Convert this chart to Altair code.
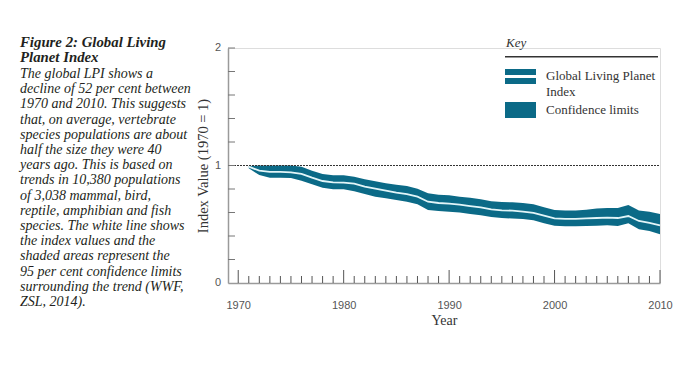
import altair as alt
import pandas as pd

# ---- data ----
years = list(range(1971, 2011))
lpi = [0.990, 0.956, 0.945, 0.945, 0.942, 0.928, 0.896, 0.868, 0.857, 0.854,
       0.845, 0.820, 0.803, 0.786, 0.769, 0.757, 0.735, 0.692, 0.681, 0.675,
       0.667, 0.655, 0.644, 0.627, 0.618, 0.616, 0.607, 0.596, 0.573, 0.550,
       0.545, 0.545, 0.550, 0.553, 0.556, 0.553, 0.570, 0.528, 0.511, 0.491]
lower = [0.976, 0.919, 0.896, 0.896, 0.894, 0.871, 0.840, 0.811, 0.797, 0.797,
         0.780, 0.757, 0.735, 0.721, 0.706, 0.692, 0.670, 0.621, 0.613, 0.607,
         0.599, 0.587, 0.576, 0.562, 0.553, 0.548, 0.545, 0.533, 0.508, 0.488,
         0.482, 0.482, 0.485, 0.488, 0.491, 0.485, 0.508, 0.457, 0.443, 0.414]
upper = [0.996, 1.000, 1.000, 1.000, 1.000, 0.990, 0.956, 0.928, 0.916, 0.916,
         0.905, 0.882, 0.865, 0.848, 0.837, 0.826, 0.803, 0.763, 0.752, 0.746,
         0.735, 0.726, 0.712, 0.695, 0.689, 0.687, 0.681, 0.670, 0.644, 0.621,
         0.616, 0.616, 0.624, 0.633, 0.638, 0.638, 0.664, 0.618, 0.607, 0.587]

x_major = [1970, 1980, 1990, 2000, 2010]
x_minor = [y for y in range(1970, 2011) if y % 10 != 0]
y_ticks = [0.2, 0.4, 0.6, 0.8, 1.0, 1.2, 1.4, 1.6, 1.8, 2.0]
y_labels = [0, 1, 2]

title_lines = ["Figure 2: Global Living", "Planet Index"]
body_lines = [
    "The global LPI shows a",
    "decline of 52 per cent between",
    "1970 and 2010. This suggests",
    "that, on average, vertebrate",
    "species populations are about",
    "half the size they were 40",
    "years ago. This is based on",
    "trends in 10,380 populations",
    "of 3,038 mammal, bird,",
    "reptile, amphibian and fish",
    "species. The white line shows",
    "the index values and the",
    "shaded areas represent the",
    "95 per cent confidence limits",
    "surrounding the trend (WWF,",
    "ZSL, 2014).",
]

df = pd.DataFrame({"year": years, "lpi": lpi, "lower": lower, "upper": upper})
major_df = pd.DataFrame({"year": x_major})
minor_df = pd.DataFrame({"year": x_minor})
ytick_df = pd.DataFrame({"v": y_ticks})
ylab_df = pd.DataFrame({"v": y_labels})
one = pd.DataFrame({"a": [0]})

W, H = 432, 235
TEAL = "#0b6a87"
SERIF = "Liberation Serif"
SANS = "Liberation Sans"

xs = alt.Scale(domain=[1969.03, 2010], nice=False, zero=False)
ys = alt.Scale(domain=[0, 2], nice=False, zero=True)

x_axis = alt.Axis(
    values=x_major, format="d", ticks=False, grid=False,
    domainColor="#9a9a9a", domainWidth=1.5,
    labelFont=SANS, labelFontSize=11, labelColor="#555",
    labelFlush=False, labelOverlap=False,
    labelPadding=16, title="Year", titleFont=SERIF, titleFontSize=14,
    titleFontWeight="normal", titleColor="#333", titlePadding=3)
y_axis = alt.Axis(
    values=y_labels, ticks=False, grid=False, labels=False,
    domainColor="#9a9a9a", domainWidth=1.5,
    title="Index Value (1970 = 1)", titleFont=SERIF,
    titleFontSize=14.5, titleFontWeight="normal", titleColor="#333",
    titlePadding=18)


def X(field):
    return alt.X(field, scale=xs, axis=x_axis, title="Year")


def Y(field):
    return alt.Y(field, scale=ys, axis=y_axis, title="Index Value (1970 = 1)")


band = alt.Chart(df).mark_area(color=TEAL, opacity=1).encode(
    x=X("year:Q"), y=Y("lower:Q"), y2="upper:Q",
)

line = alt.Chart(df).mark_line(color="#e2f5f8", strokeWidth=1.8).encode(
    x=X("year:Q"), y=Y("lpi:Q"),
)

ref = alt.Chart(one).mark_rule(color="#333", strokeWidth=1, strokeDash=[2, 1]).encode(
    y=alt.Y(datum=1, scale=ys, axis=y_axis, title="Index Value (1970 = 1)"),
    x=alt.value(0), x2=alt.value(W)
)

major_ticks = alt.Chart(major_df).mark_rule(color="#555", strokeWidth=1).encode(
    x=X("year:Q"), y=alt.value(H), y2=alt.value(H - 13)
)
minor_ticks = alt.Chart(minor_df).mark_rule(color="#555", strokeWidth=1).encode(
    x=X("year:Q"), y=alt.value(H), y2=alt.value(H - 7)
)
yticks = alt.Chart(ytick_df).mark_rule(color="#777", strokeWidth=1).encode(
    y=Y("v:Q"), x=alt.value(0), x2=alt.value(7)
)
ylabels = alt.Chart(ylab_df).mark_text(
    align="right", baseline="middle", font=SANS, fontSize=11, color="#555"
).encode(
    y=Y("v:Q"), x=alt.value(-7), text=alt.Text("v:Q", format="d")
)


def txt(lines, x, y, size, style="italic", weight="normal", lh=15.2, color="#231f20", font=SERIF):
    return alt.Chart(one).mark_text(
        align="left", baseline="alphabetic", font=font, fontSize=size,
        fontStyle=style, fontWeight=weight, lineHeight=lh, color=color
    ).encode(x=alt.value(x), y=alt.value(y), text=alt.value(lines))


title_t = txt(title_lines, -208, -1.5, 14.8, weight="bold", lh=15.2)
body_t = txt(body_lines, -208, 30, 14)

key_t = txt("Key", 278, -1, 13, color="#333")
key_rule = alt.Chart(one).mark_rule(color="#333", strokeWidth=1.5).encode(
    x=alt.value(277), x2=alt.value(430), y=alt.value(8.7))
sw1 = alt.Chart(one).mark_rect(color=TEAL).encode(
    x=alt.value(277), x2=alt.value(308), y=alt.value(21), y2=alt.value(27))
sw2 = alt.Chart(one).mark_rect(color=TEAL).encode(
    x=alt.value(277), x2=alt.value(308), y=alt.value(30), y2=alt.value(36))
sw3 = alt.Chart(one).mark_rect(color=TEAL).encode(
    x=alt.value(277), x2=alt.value(308), y=alt.value(54), y2=alt.value(70))
leg1 = txt(["Global Living Planet", "Index"], 318, 32, 13, style="normal", lh=16, color="#333")
leg2 = txt("Confidence limits", 318, 66, 13, style="normal", color="#333")

chart = alt.layer(
    band, line, ref, major_ticks, minor_ticks, yticks, ylabels,
    title_t, body_t, key_t, key_rule, sw1, sw2, sw3, leg1, leg2,
).properties(
    width=W, height=H,
    autosize=alt.AutoSizeParams(type="none"),
    padding={"left": 220, "top": 40, "right": 20, "bottom": 50},
).configure_view(stroke=None).configure(background="white")

chart.save("out.html", embed_options={"renderer": "svg", "actions": False})
